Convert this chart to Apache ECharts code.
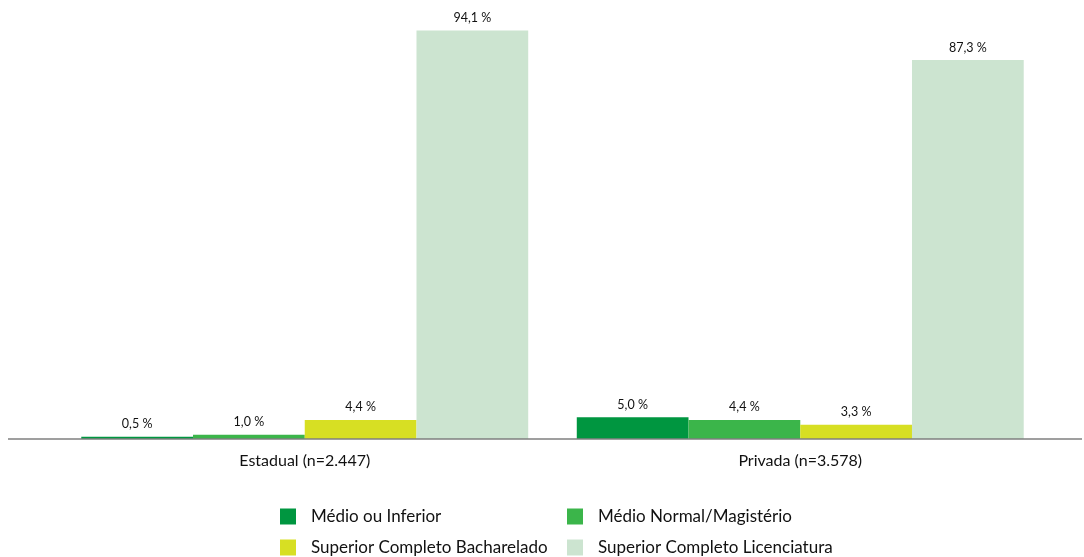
<!DOCTYPE html>
<html>
<head>
<meta charset="utf-8">
<script src="https://cdn.jsdelivr.net/npm/echarts@6/dist/echarts.min.js"></script>
<style>
  html, body { margin: 0; padding: 0; background: #fff; }
  #chart { width: 1084px; height: 557px; }
</style>
</head>
<body>
<div id="chart"></div>
<script>
// categorias e valores (%)
var categories = ['Estadual (n=2.447)', 'Privada (n=3.578)'];
var seriesNames = ['Médio ou Inferior', 'Médio Normal/Magistério', 'Superior Completo Bacharelado', 'Superior Completo Licenciatura'];
var medioInferior = [0.5, 5.0];
var medioNormal = [1.0, 4.4];
var supBacharelado = [4.4, 3.3];
var supLicenciatura = [94.1, 87.3];
var colors = ['#009640', '#3BB54A', '#D7DF23', '#CCE4D0'];

var values = [medioInferior, medioNormal, supBacharelado, supLicenciatura];
var font = 'Lato, Open Sans, sans-serif';

var chart = echarts.init(document.getElementById('chart'));

var series = seriesNames.map(function (name, i) {
    return {
        name: name,
        type: 'bar',
        data: values[i],
        barGap: '0%',
        barCategoryGap: '9.8%',
        itemStyle: { color: colors[i] },
        label: {
            show: true,
            position: 'top',
            distance: 6,
            color: '#111',
            fontSize: 12.5,
            fontFamily: font,
            formatter: function (p) {
                return p.value.toFixed(1).replace('.', ',') + ' %';
            }
        }
    };
});

// uma legenda por item para reproduzir a grade 2x2
var legendPos = [[275, 503], [562, 503], [275, 534], [562, 534]];
var legends = seriesNames.map(function (name, i) {
    return {
        data: [name],
        left: legendPos[i][0],
        top: legendPos[i][1],
        itemWidth: 16,
        itemHeight: 16,
        icon: 'rect',
        selectedMode: false,
        textStyle: { fontSize: 17, color: '#111', fontFamily: font, padding: [0, 0, 0, 10] }
    };
});

chart.setOption({
    animation: false,
    color: colors,
    legend: legends,
    grid: { left: 57, right: 36, top: 5, bottom: 118 },
    xAxis: {
        type: 'category',
        data: categories,
        axisLine: { show: false },
        axisTick: { show: false },
        axisLabel: { color: '#111', fontSize: 16, fontFamily: font, margin: 14 }
    },
    yAxis: {
        type: 'value',
        min: 0,
        max: 100,
        show: false,
        splitLine: { show: false }
    },
    // linha do eixo que se estende por toda a largura
    graphic: [{
        type: 'line',
        shape: { x1: 8, y1: 439, x2: 1082, y2: 439 },
        style: { stroke: '#7f7f7f', lineWidth: 1.5 },
        z: 10
    }],
    series: series
});
</script>
</body>
</html>
